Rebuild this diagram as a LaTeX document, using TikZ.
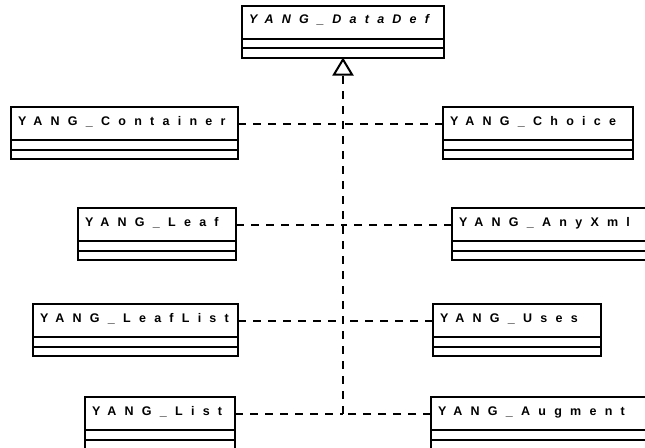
\documentclass[tikz,border=0pt]{standalone}
\usepackage{fontspec}
\setmainfont{Liberation Sans}
\newfontfamily\umlfont[LetterSpace=66]{Liberation Sans}
\usetikzlibrary{arrows.meta}
\tikzset{
  classname/.style={draw, line width=2pt, outer sep=0pt, inner ysep=0pt, inner xsep=7pt,
    minimum height=33pt, align=left, font=\umlfont\bfseries\fontsize{12.5}{15}\selectfont,
    text height=9.5pt, text depth=6.5pt},
  compart/.style={draw, line width=2pt, outer sep=0pt, inner sep=0pt, minimum height=9.5pt},
  dep/.style={line width=2pt, dash pattern=on 8pt off 7pt},
  gen/.style={dep, -{Triangle[open, length=18pt, width=21pt, line width=2pt]}},
}
\newcommand\umlclass[5]{%
  \pgfmathsetmacro\umltw{#4-14}%
  \node[classname, anchor=north west, minimum width=#4pt, text width=\umltw pt] (#1) at (#2,#3) {\mbox{#5}};
  \node[compart, anchor=north, minimum width=#4pt] (#1-attr) at (#1.south) {};
  \node[compart, anchor=north, minimum width=#4pt] (#1-ops) at (#1-attr.south) {};
}
\begin{document}
\begin{tikzpicture}[x=1pt,y=-1pt]
\useasboundingbox (0,0) rectangle (645,447);
\clip (0,0) rectangle (645,447);
\umlclass{datadef}{242}{5.5}{202}{\itshape YANG\_DataDef}
\umlclass{container}{11}{107}{227}{YANG\_Container}
\umlclass{choice}{443}{107}{190}{YANG\_Choice}
\umlclass{leaf}{78}{208}{158}{YANG\_Leaf}
\umlclass{anyxml}{452}{208}{210}{YANG\_AnyXml}
\umlclass{leaflist}{33}{304}{205}{YANG\_LeafList}
\umlclass{uses}{433}{304}{168}{YANG\_Uses}
\umlclass{list}{85}{397}{150}{YANG\_List}
\umlclass{augment}{431}{397}{230}{YANG\_Augment}
\coordinate (jbot) at (datadef-ops.south |- list.east);
\draw[gen] (jbot) -- (datadef-ops.south);
\draw[dep] (container.east) -- (container.east -| jbot);
\draw[dep] (choice.west) -- (choice.west -| jbot);
\draw[dep] (leaf.east) -- (leaf.east -| jbot);
\draw[dep] (anyxml.west) -- (anyxml.west -| jbot);
\draw[dep] (leaflist.east) -- (leaflist.east -| jbot);
\draw[dep] (uses.west) -- (uses.west -| jbot);
\draw[dep] (list.east) -- (list.east -| jbot);
\draw[dep] (augment.west) -- (augment.west -| jbot);
\end{tikzpicture}
\end{document}
